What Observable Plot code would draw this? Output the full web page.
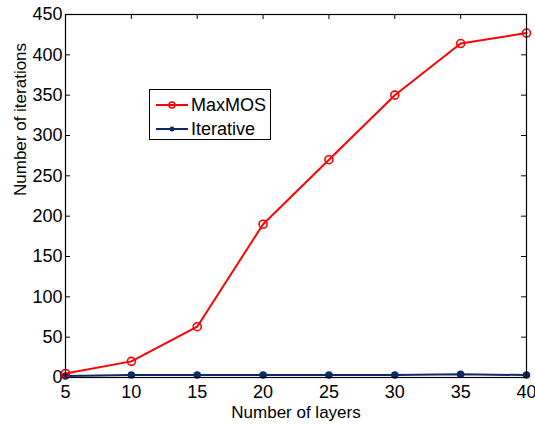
<!DOCTYPE html>
<html><head><meta charset="utf-8">
<script src="https://cdn.jsdelivr.net/npm/d3@7"></script>
<script src="https://cdn.jsdelivr.net/npm/@observablehq/plot@0.6"></script>
<style>
html,body{margin:0;padding:0;background:#fff;}
#wrap{position:relative;width:535px;height:424px;font-family:"Liberation Sans",Arial,Helvetica,sans-serif;}
#legend{position:absolute;left:149px;top:89px;width:120px;height:49px;border:1px solid #000;background:#fff;}
.row{position:absolute;left:0;height:20px;display:flex;align-items:center;font-size:18px;color:#000;}
.row svg{margin-left:6px;margin-right:3px;}
</style></head>
<body><div id="wrap"></div>
<script>
const layers = [5, 10, 15, 20, 25, 30, 35, 40];
const maxMOS = [5, 20, 63, 190, 270, 350, 414, 427];
const iterative = [2, 3, 3, 3, 3, 3, 4, 3];
const xTicks = [5, 10, 15, 20, 25, 30, 35, 40];
const yTicks = [0, 50, 100, 150, 200, 250, 300, 350, 400, 450];
const seriesNames = ["MaxMOS", "Iterative"];
const colors = ["#ff0000", "#0c2a6b"];

const dataM = layers.map((l, i) => ({x: l, y: maxMOS[i]}));
const dataI = layers.map((l, i) => ({x: l, y: iterative[i]}));

const W = 535, H = 424, mL = 65, mR = 9, mT = 14, mB = 47;
const pw = W - mL - mR, ph = H - mT - mB, tk = 5;

const chart = Plot.plot({
  width: W, height: H,
  marginLeft: mL, marginRight: mR, marginTop: mT, marginBottom: mB,
  style: {fontFamily: '"Liberation Sans", Arial, Helvetica, sans-serif', fontSize: "18px", color: "#000", background: "#fff"},
  x: {domain: [5, 40]},
  y: {domain: [0, 450]},
  marks: [
    Plot.axisX(xTicks, {tickSize: 0, tickPadding: 8, fontSize: 18, label: null}),
    Plot.axisY(yTicks, {tickSize: 0, tickPadding: 3, fontSize: 18, label: null}),
    Plot.tickX(xTicks, {x: d => d, insetTop: ph - tk, stroke: "#000"}),
    Plot.tickX(xTicks, {x: d => d, insetBottom: ph - tk, stroke: "#000"}),
    Plot.tickY(yTicks, {y: d => d, insetRight: pw - tk, stroke: "#000"}),
    Plot.tickY(yTicks, {y: d => d, insetLeft: pw - tk, stroke: "#000"}),
    Plot.line(dataI, {x: "x", y: "y", stroke: colors[1], strokeWidth: 2}),
    Plot.dot(dataI, {x: "x", y: "y", r: 3, fill: colors[1], stroke: colors[1]}),
    Plot.line(dataM, {x: "x", y: "y", stroke: colors[0], strokeWidth: 2}),
    Plot.dot(dataM, {x: "x", y: "y", r: 4, stroke: colors[0], strokeWidth: 1.6, fill: "none"}),
    Plot.frame({stroke: "#000", strokeWidth: 1.2}),
    Plot.text(["Number of layers"], {frameAnchor: "bottom", dy: 40, lineAnchor: "bottom", fontSize: 17, fill: "#000"}),
    Plot.text(["Number of iterations"], {frameAnchor: "left", dx: -40, rotate: -90, lineAnchor: "bottom", fontSize: 17, fill: "#000"})
  ]
});

const wrap = document.getElementById("wrap");
wrap.appendChild(chart);

const legend = document.createElement("div");
legend.id = "legend";
const rowsTop = [5, 29];
seriesNames.forEach((name, i) => {
  const row = document.createElement("div");
  row.className = "row";
  row.style.top = rowsTop[i] + "px";
  const marker = i === 0
    ? `<circle cx="16" cy="10" r="3" fill="none" stroke="${colors[0]}" stroke-width="1.5"/>`
    : `<circle cx="16" cy="10" r="2.5" fill="${colors[1]}"/>`;
  row.innerHTML = `<svg width="32" height="20"><line x1="0" y1="10" x2="32" y2="10" stroke="${colors[i]}" stroke-width="2"/>${marker}</svg><span>${name}</span>`;
  legend.appendChild(row);
});
wrap.appendChild(legend);
</script>
</body></html>
